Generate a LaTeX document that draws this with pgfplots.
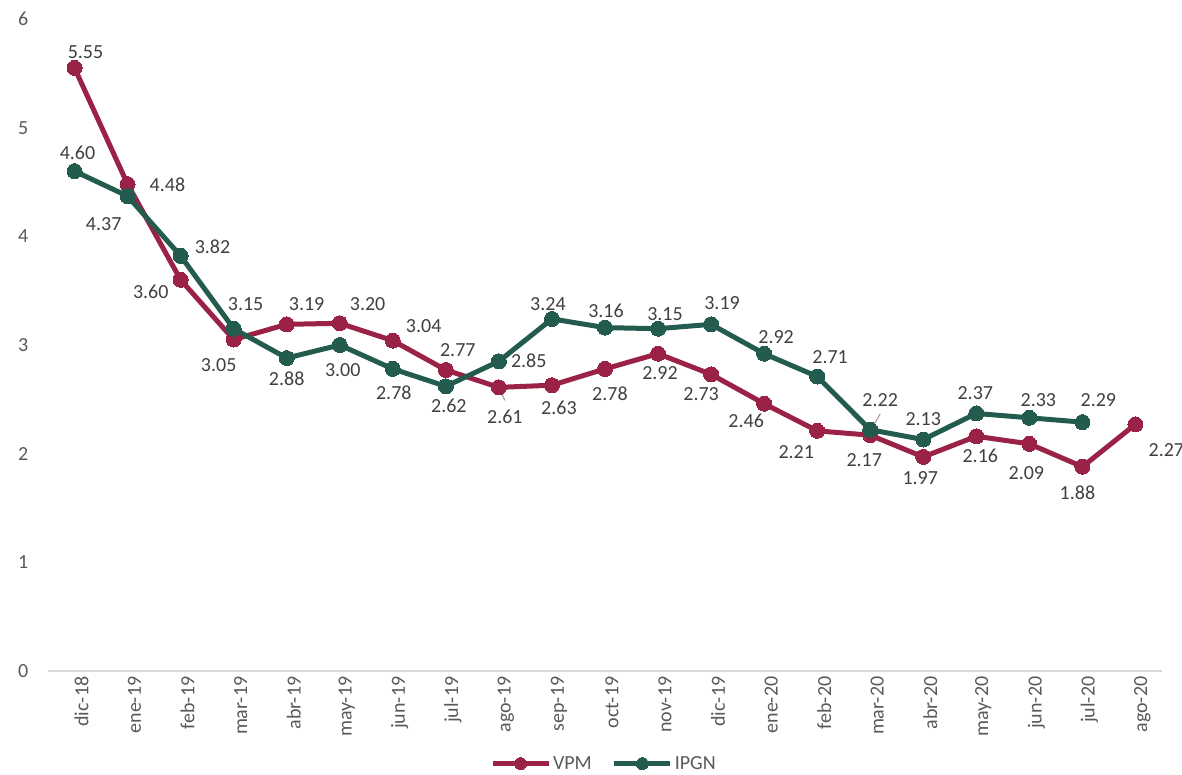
\documentclass[border=0pt]{standalone}
\usepackage{pgfplots}
\pgfplotsset{compat=1.18}
\usepackage{pgfplotstable}
\usepackage{fontspec}
\setmainfont{Carlito}
\definecolor{vpmcol}{RGB}{155,34,71}
\definecolor{ipgncol}{RGB}{35,91,78}
\definecolor{lblgray}{RGB}{64,64,64}
\definecolor{tickgray}{RGB}{89,89,89}
\definecolor{axgray}{RGB}{217,217,217}

\pgfplotstableread{
x y lab dx dy
0 5.55 5.55 11 16
1 4.48 4.48 40 -1
2 3.60 3.60 -30 -12
3 3.05 3.05 -15 -26
4 3.19 3.19 20 20
5 3.20 3.20 28 19
6 3.04 3.04 31 15
7 2.77 2.77 12 20
8 2.61 2.61 6 -30
9 2.63 2.63 7 -23
10 2.78 2.78 5 -25
11 2.92 2.92 2 -19
12 2.73 2.73 -10 -20
13 2.46 2.46 -18 -17
14 2.21 2.21 -21 -21
15 2.17 2.17 -6 -25
16 1.97 1.97 -3 -21
17 2.16 2.16 4 -20
18 2.09 2.09 -3 -29
19 1.88 1.88 -5 -26
20 2.27 2.27 31 -26
}\vpm

\pgfplotstableread{
x y lab dx dy
0 4.60 4.60 3 18
1 4.37 4.37 -24 -28
2 3.82 3.82 32 9
3 3.15 3.15 12 25
4 2.88 2.88 0 -21
5 3.00 3.00 3 -25
6 2.78 2.78 1 -24
7 2.62 2.62 3 -20
8 2.85 2.85 30 1
9 3.24 3.24 -4 15
10 3.16 3.16 1 17
11 3.15 3.15 7 15
12 3.19 3.19 11 21
13 2.92 2.92 12 17
14 2.71 2.71 13 19
15 2.22 2.22 10 30
16 2.13 2.13 0 21
17 2.37 2.37 -1 20
18 2.33 2.33 9 18
19 2.29 2.29 16 22
}\ipgn

\newcommand{\fs}{\fontsize{20bp}{24bp}\selectfont}

\pgfplotsset{
  lbls/.style={
    nodes near coords={\pgfplotspointmeta},
    point meta=explicit symbolic,
    visualization depends on={\thisrow{dx}\as\dx},
    visualization depends on={\thisrow{dy}\as\dy},
    nodes near coords style={anchor=center, xshift=\dx pt, yshift=\dy pt, font=\fs, text=lblgray, inner sep=0pt},
  }
}

\begin{document}
\begin{tikzpicture}
\path[use as bounding box] (-48bp,-104bp) rectangle (1134bp,671bp);
\begin{axis}[
  at={(0,0)}, anchor=south west,
  scale only axis,
  width=1114bp, height=652bp,
  xmin=-0.5, xmax=20.5,
  ymin=0, ymax=6,
  clip=false,
  axis x line=bottom,
  axis y line=left,
  x axis line style={-, draw=axgray, line width=1.3bp},
  y axis line style={draw=none},
  tick style={draw=none},
  xtick={0,...,20},
  xticklabels={dic-18,ene-19,feb-19,mar-19,abr-19,may-19,jun-19,jul-19,ago-19,sep-19,oct-19,nov-19,dic-19,ene-20,feb-20,mar-20,abr-20,may-20,jun-20,jul-20,ago-20},
  ytick={0,1,2,3,4,5,6},
  /pgf/number format/assume math mode=true,
  xticklabel style={rotate=90, anchor=east, yshift=-7bp, font=\fs, text=tickgray},
  yticklabel style={font=\fs, text=tickgray, xshift=-14bp},
  legend columns=2,
  legend style={at={(0.499,-0.142)}, anchor=center, draw=none, fill=none,
    font=\fs, text=tickgray,
    /tikz/every even column/.append style={column sep=18bp},
    inner sep=0pt},
  legend image code/.code={%
    \draw[#1, mark=none] (-28bp,0bp) -- (28bp,0bp);
    \draw[#1, mark size=6bp] plot coordinates {(0bp,0bp)};
  },
]
\addplot[color=vpmcol, line width=5bp, mark=*, mark size=7.5bp, mark options={fill=vpmcol, draw=vpmcol, line width=0pt}, lbls]
  table[x=x, y=y, meta=lab] {\vpm};
\addlegendentry{VPM}
\addplot[color=ipgncol, line width=5bp, mark=*, mark size=7.5bp, mark options={fill=ipgncol, draw=ipgncol, line width=0pt}, lbls]
  table[x=x, y=y, meta=lab] {\ipgn};
\addlegendentry{IPGN}
\draw[gray!70, line width=1.2bp] ([shift={(1bp,-3bp)}]axis cs:8,2.61) -- ([shift={(6bp,-13bp)}]axis cs:8,2.61);
\draw[gray!70, line width=1.2bp] ([shift={(2bp,2bp)}]axis cs:15,2.22) -- ([shift={(10bp,16bp)}]axis cs:15,2.22);
\end{axis}
\end{tikzpicture}
\end{document}
